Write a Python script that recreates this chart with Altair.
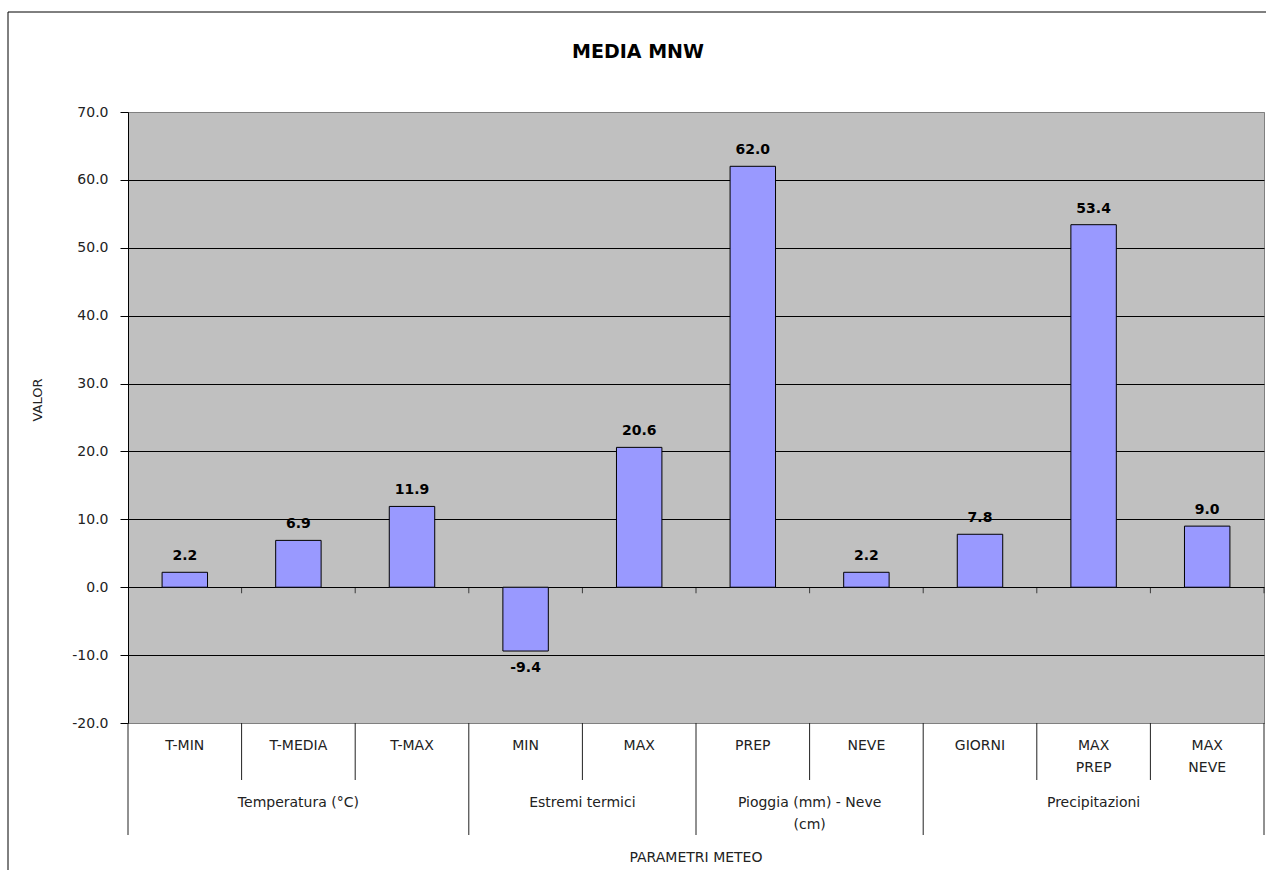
import altair as alt
import pandas as pd

categories = ["T-MIN", "T-MEDIA", "T-MAX", "MIN", "MAX", "PREP", "NEVE", "GIORNI", "MAX PREP", "MAX NEVE"]
cat_labels = ["T-MIN", "T-MEDIA", "T-MAX", "MIN", "MAX", "PREP", "NEVE", "GIORNI", "MAX\nPREP", "MAX\nNEVE"]
values = [2.2, 6.9, 11.9, -9.4, 20.6, 62.0, 2.2, 7.8, 53.4, 9.0]
groups = ["Temperatura (°C)", "Estremi termici", "Pioggia (mm) - Neve\n(cm)", "Precipitazioni"]
group_sizes = [3, 2, 2, 3]
y_ticks = [-20, -10, 0, 10, 20, 30, 40, 50, 60, 70]

FONT = "DejaVu Sans"
W, H = 1136, 611

bars_df = pd.DataFrame({
    "cat": categories,
    "label": cat_labels,
    "value": values,
    "zero": [0.0] * len(values),
    "x0": [i + 0.3 for i in range(len(categories))],
    "x1": [i + 0.7 for i in range(len(categories))],
    "xc": [i + 0.5 for i in range(len(categories))],
})

group_bounds = [0]
for s in group_sizes:
    group_bounds.append(group_bounds[-1] + s)
starts = group_bounds[:-1]
grp_df = pd.DataFrame({
    "group": groups,
    "center": [st + s / 2 for st, s in zip(starts, group_sizes)],
})
bnd_df = pd.DataFrame({
    "b": list(range(len(categories) + 1)),
    "major": [b in group_bounds for b in range(len(categories) + 1)],
    "zero": [0.0] * (len(categories) + 1),
})

xs = alt.Scale(domain=[0, len(categories)], nice=False, zero=False)
ys = alt.Scale(domain=[-20, 70], nice=False, zero=False)

base = alt.Chart(bars_df).transform_calculate(
    vtxt="replace(format(datum.value, '.1f'), '\u2212', '-')"
)

bars = base.mark_bar(color="#9999FF", stroke="#000000", strokeWidth=1).encode(
    x=alt.X("x0:Q", scale=xs, axis=None),
    x2="x1:Q",
    y=alt.Y("value:Q", scale=ys, title=None,
            axis=alt.Axis(values=y_ticks, format=".1f", tickSize=8, tickColor="#000000",
                          labelExpr="replace(datum.label, '\u2212', '-')",
                          domainColor="#000000",
                          gridColor={"condition": {"test": "datum.value == 70 || datum.value == -20",
                                                   "value": "#808080"},
                                     "value": "#000000"},
                          gridWidth=1,
                          labelFont=FONT, labelFontSize=14, labelColor="#222222",
                          labelPadding=12)),
    y2="zero:Q",
)

pos_labels = base.transform_filter("datum.value >= 0").mark_text(
    font=FONT, fontSize=14, fontWeight="bold", baseline="bottom", dy=-9, color="#000000"
).encode(x=alt.X("xc:Q", scale=xs), y=alt.Y("value:Q", scale=ys), text="vtxt:N")

neg_labels = base.transform_filter("datum.value < 0").mark_text(
    font=FONT, fontSize=14, fontWeight="bold", baseline="top", dy=10, color="#000000"
).encode(x=alt.X("xc:Q", scale=xs), y=alt.Y("value:Q", scale=ys), text="vtxt:N")

zero_ticks = alt.Chart(bnd_df).transform_filter("datum.b > 0").mark_tick(
    orient="vertical", size=6, yOffset=3, thickness=1, color="#000000"
).encode(x=alt.X("b:Q", scale=xs), y=alt.Y("zero:Q", scale=ys))

minor_lines = alt.Chart(bnd_df).transform_filter("!datum.major").mark_rule(
    color="#222222", strokeWidth=1
).encode(x=alt.X("b:Q", scale=xs), y=alt.value(H), y2=alt.value(H + 57))

major_lines = alt.Chart(bnd_df).transform_filter("datum.major").mark_rule(
    color="#222222", strokeWidth=1
).encode(x=alt.X("b:Q", scale=xs), y=alt.value(H), y2=alt.value(H + 112))

cat_text = base.mark_text(
    font=FONT, fontSize=14, color="#222222", baseline="top", lineBreak="\n", lineHeight=22
).encode(x=alt.X("xc:Q", scale=xs), y=alt.value(H + 16), text="label:N")

grp_text = alt.Chart(grp_df).mark_text(
    font=FONT, fontSize=14, color="#222222", baseline="top", lineBreak="\n", lineHeight=22
).encode(x=alt.X("center:Q", scale=xs), y=alt.value(H + 73), text="group:N")

misc_df = pd.DataFrame({"t": ["PARAMETRI METEO"]})
x_title = alt.Chart(misc_df).mark_text(
    font=FONT, fontSize=14, color="#222222", baseline="middle"
).encode(x=alt.value(W / 2), y=alt.value(H + 135), text="t:N")

title_df = pd.DataFrame({"t": ["MEDIA MNW"]})
title = alt.Chart(title_df).mark_text(
    font=FONT, fontSize=19, fontWeight="bold", color="#000000", baseline="middle"
).encode(x=alt.value(510), y=alt.value(-60), text="t:N")

ytitle_df = pd.DataFrame({"t": ["VALOR"]})
y_title = alt.Chart(ytitle_df).mark_text(
    font=FONT, fontSize=13, color="#222222", baseline="middle", angle=270
).encode(x=alt.value(-90), y=alt.value(288), text="t:N")

frame_top = alt.Chart(title_df).mark_rule(color="#000000", strokeWidth=1).encode(
    x=alt.value(-120), x2=alt.value(W + 10), y=alt.value(-100))
frame_left = alt.Chart(title_df).mark_rule(color="#000000", strokeWidth=1).encode(
    x=alt.value(-120), y=alt.value(-100), y2=alt.value(H + 160))

chart = alt.layer(
    bars, pos_labels, neg_labels, zero_ticks, minor_lines, major_lines,
    cat_text, grp_text, x_title, title, y_title, frame_top, frame_left
).properties(
    width=W, height=H,
    autosize="none",
    padding={"left": 128, "top": 112, "right": 2, "bottom": 147},
    background="#FFFFFF",
).configure_view(
    fill="#C0C0C0", stroke="#808080", strokeWidth=1
)

chart.save("out.html", embed_options={"renderer": "svg", "actions": False})
